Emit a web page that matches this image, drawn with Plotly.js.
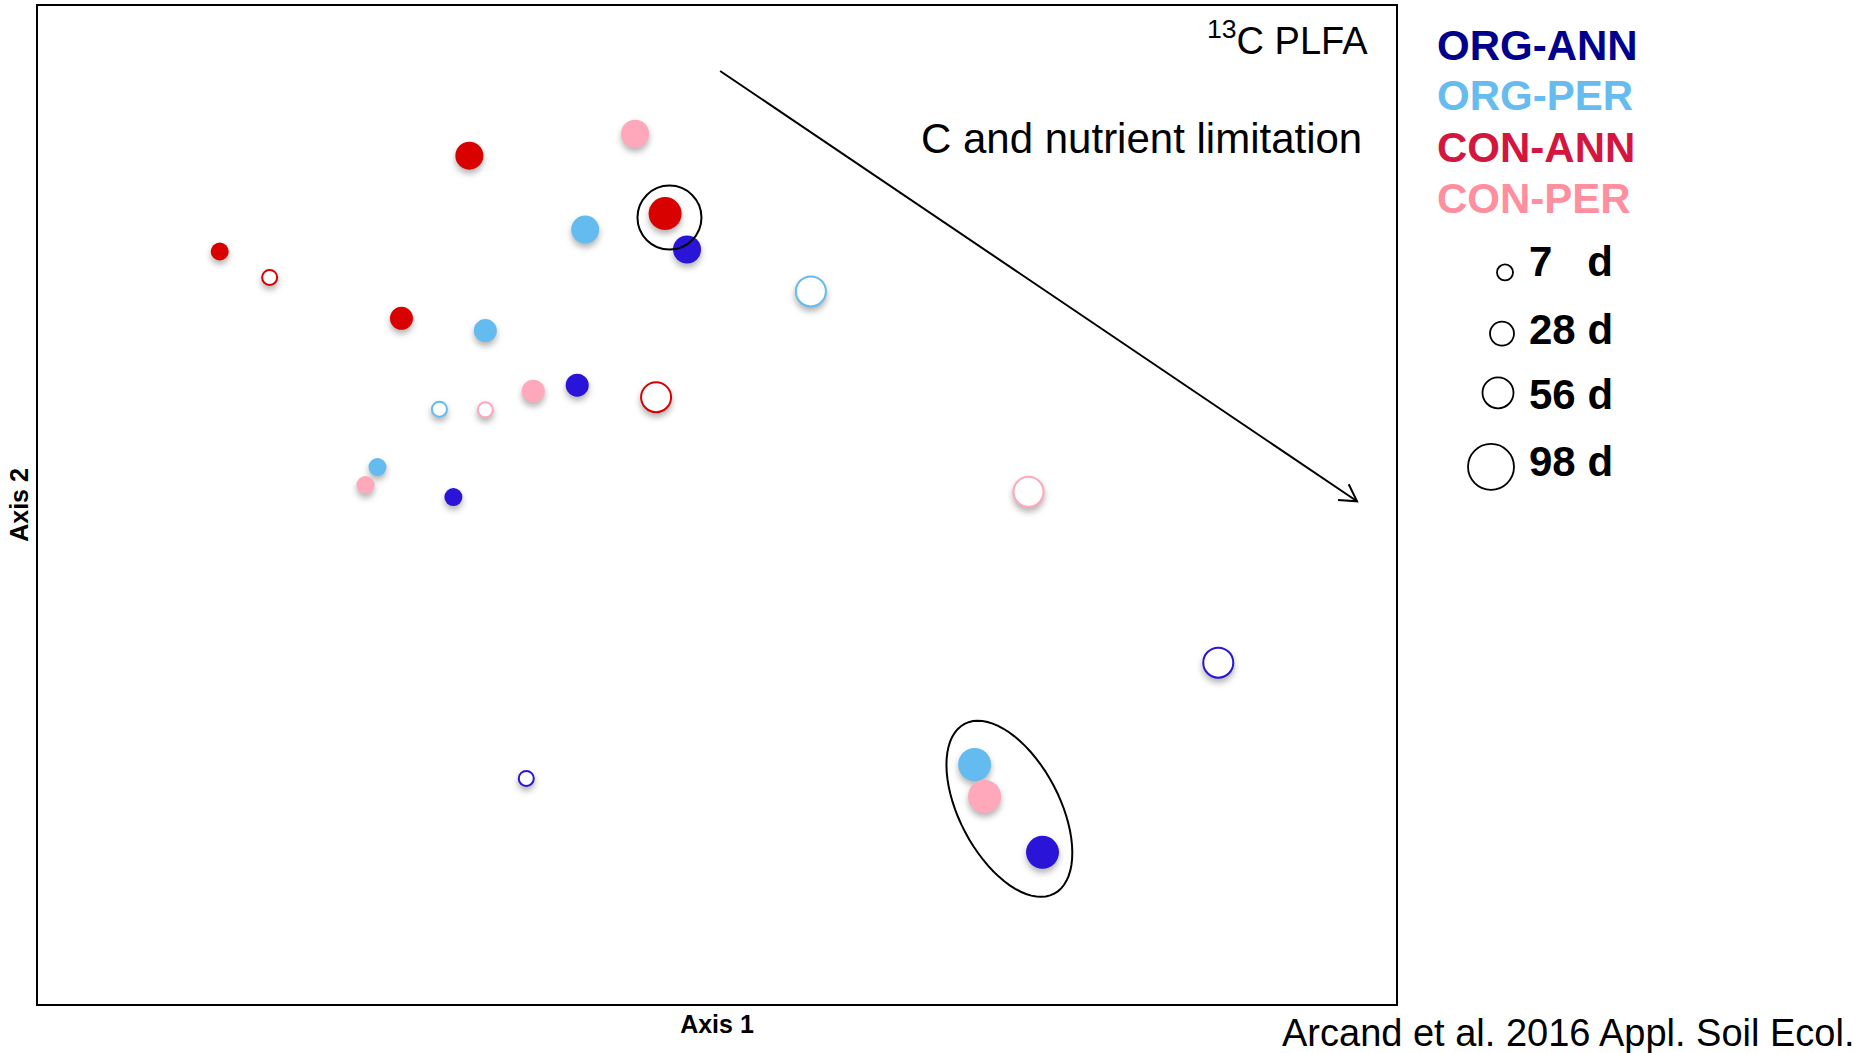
<!DOCTYPE html>
<html>
<head>
<meta charset="utf-8">
<script src="https://cdn.plot.ly/plotly-3.0.1.min.js"></script>
<style>
html,body{margin:0;padding:0;background:#ffffff;}
#chart{width:1860px;height:1053px;}
.scatterlayer path.point{filter:drop-shadow(0px 4px 3px rgba(0,0,0,0.3));}
</style>
</head>
<body>
<div id="chart"></div>
<script>
const groupNames = ['ORG-ANN', 'ORG-PER', 'CON-ANN', 'CON-PER'];

const orgAnnX   = [-1.32, -0.955, -0.70, -0.15, 1.63, 2.51];
const orgAnnY   = [0.04, -1.37, 0.60, 1.28, -1.74, -0.79];
const orgAnnDay = [7, 7, 28, 56, 98, 98];
const orgAnnOpen = [0, 1, 0, 0, 0, 1];

const orgPerX   = [-1.70, -1.39, -1.16, -0.66, 1.29, 0.47];
const orgPerY   = [0.19, 0.48, 0.874, 1.38, -1.30, 1.07];
const orgPerDay = [7, 7, 28, 56, 98, 98];
const orgPerOpen = [0, 1, 0, 0, 0, 1];

const conAnnX   = [-2.49, -2.24, -1.58, -1.24, -0.26, -0.305];
const conAnnY   = [1.27, 1.14, 0.935, 1.75, 1.46, 0.54];
const conAnnDay = [7, 7, 28, 56, 98, 98];
const conAnnOpen = [0, 1, 0, 0, 0, 1];

const conPerX   = [-1.76, -1.16, -0.92, -0.41, 1.34, 1.56];
const conPerY   = [0.10, 0.477, 0.57, 1.86, -1.46, 0.066];
const conPerDay = [7, 7, 28, 56, 98, 98];
const conPerOpen = [0, 1, 0, 0, 0, 1];

const legendDays = [7, 28, 56, 98];
const legendDayLabels = ['7\u00a0\u00a0\u00a0d', '28 d', '56 d', '98 d'];

const panelTitle = '<sup>13</sup>C PLFA';
const arrowLabel = 'C and nutrient limitation';
const citation = 'Arcand et al. 2016 Appl. Soil Ecol.';

// arrow (gradient) start and end, and highlighted groups, in axis units
const arrowStart = [0.0156, 2.1744];
const arrowEnd = [3.2049, 0.0186];
const circleCenter = [-0.238, 1.44];
const ellipseCenter = [1.464, -1.522];

// ---------------- STYLE ----------------
const FONT = 'Arial, "Liberation Sans", Helvetica, sans-serif';
const markerColors = ['#2914d8', '#63bbf0', '#d90000', '#ffa7bb'];
const labelColors = ['#00008c', '#66bcee', '#d4163e', '#ff8f9f'];
const sizeByDay = {7: 18, 28: 23, 56: 28, 98: 33};
const legendCircleSize = [16, 24, 31, 46];

const W = 1860, H = 1053;
const M = {l: 38, r: 464, t: 6, b: 49};
const plotW = W - M.l - M.r, plotH = H - M.t - M.b;
const XR = [-3.4, 3.4], YR = [-2.5, 2.5];
const px2paperX = px => (px - M.l) / plotW;
const py2paperY = py => (H - M.b - py) / plotH;

// ---------------- TRACES ----------------
const groupX = [orgAnnX, orgPerX, conAnnX, conPerX];
const groupY = [orgAnnY, orgPerY, conAnnY, conPerY];
const groupDay = [orgAnnDay, orgPerDay, conAnnDay, conPerDay];
const groupOpen = [orgAnnOpen, orgPerOpen, conAnnOpen, conPerOpen];

const traces = groupNames.map((name, g) => ({
  type: 'scatter',
  mode: 'markers',
  name: name,
  x: groupX[g],
  y: groupY[g],
  text: groupDay[g].map(d => d + ' d'),
  hoverinfo: 'name+text',
  cliponaxis: false,
  marker: {
    symbol: 'circle',
    size: groupDay[g].map((d, i) => groupOpen[g][i] ? sizeByDay[d] - 3 : sizeByDay[d]),
    color: groupOpen[g].map(o => o ? '#ffffff' : markerColors[g]),
    opacity: 1,
    line: {
      color: markerColors[g],
      width: groupOpen[g].map(o => o ? 2 : 0)
    }
  }
}));

// ---------------- SHAPES ----------------
const shapes = [];

// highlight circle around a point
shapes.push({
  type: 'circle', xref: 'x', yref: 'y',
  xsizemode: 'pixel', ysizemode: 'pixel',
  xanchor: circleCenter[0], yanchor: circleCenter[1],
  x0: -32, x1: 32, y0: -32, y1: 32,
  line: {color: '#000', width: 2}
});

// tilted ellipse around the lower-right cluster
(function () {
  const a = 96, b = 50, phi = -62.2 * Math.PI / 180;
  let p = '';
  for (let k = 0; k <= 72; k++) {
    const t = k / 72 * 2 * Math.PI;
    const ex = a * Math.cos(t), ey = b * Math.sin(t);
    const X = ex * Math.cos(phi) - ey * Math.sin(phi);
    const Y = ex * Math.sin(phi) + ey * Math.cos(phi);
    p += (k === 0 ? 'M' : 'L') + X.toFixed(2) + ',' + Y.toFixed(2);
  }
  p += 'Z';
  shapes.push({
    type: 'path', xref: 'x', yref: 'y',
    xsizemode: 'pixel', ysizemode: 'pixel',
    xanchor: ellipseCenter[0], yanchor: ellipseCenter[1],
    path: p,
    line: {color: '#000', width: 2}
  });
})();

// arrow shaft
shapes.push({
  type: 'line', xref: 'x', yref: 'y',
  x0: arrowStart[0], y0: arrowStart[1], x1: arrowEnd[0], y1: arrowEnd[1],
  line: {color: '#000', width: 2}
});
// open arrow head
(function () {
  const sx = plotW / (XR[1] - XR[0]), sy = plotH / (YR[1] - YR[0]);
  const dx = (arrowEnd[0] - arrowStart[0]) * sx, dy = (arrowEnd[1] - arrowStart[1]) * sy;
  const len = Math.hypot(dx, dy);
  const ux = -dx / len, uy = -dy / len; // pointing back along shaft (y up)
  const L = 19, ang = 30 * Math.PI / 180;
  const rot = (x, y, a) => [x * Math.cos(a) - y * Math.sin(a), x * Math.sin(a) + y * Math.cos(a)];
  const p1 = rot(ux * L, uy * L, ang), p2 = rot(ux * L, uy * L, -ang);
  shapes.push({
    type: 'path', xref: 'x', yref: 'y',
    xsizemode: 'pixel', ysizemode: 'pixel',
    xanchor: arrowEnd[0], yanchor: arrowEnd[1],
    path: 'M' + p1[0].toFixed(2) + ',' + p1[1].toFixed(2) + 'L0,0L' + p2[0].toFixed(2) + ',' + p2[1].toFixed(2),
    line: {color: '#000', width: 2}
  });
})();

// size legend circles
const legendCirclePos = [[1505, 272.4], [1502, 333.6], [1498, 392.8], [1491, 466.8]];
legendDays.forEach((d, i) => {
  const s = legendCircleSize[i] / 2;
  shapes.push({
    type: 'circle', xref: 'paper', yref: 'paper',
    xsizemode: 'pixel', ysizemode: 'pixel',
    xanchor: px2paperX(legendCirclePos[i][0]), yanchor: py2paperY(legendCirclePos[i][1]),
    x0: -s, x1: s, y0: -s, y1: s,
    line: {color: '#000', width: 1.8}
  });
});

// ---------------- ANNOTATIONS ----------------
const annotations = [];
const bottomY = (baseline, size) => py2paperY(baseline + 0.212 * size + 1);

annotations.push({
  xref: 'paper', yref: 'paper', x: px2paperX(1370), y: bottomY(55, 38),
  xanchor: 'right', yanchor: 'bottom', showarrow: false,
  text: panelTitle, font: {family: FONT, size: 38, color: '#000'}
});
annotations.push({
  xref: 'paper', yref: 'paper', x: px2paperX(1364), y: bottomY(154.5, 42),
  xanchor: 'right', yanchor: 'bottom', showarrow: false,
  text: arrowLabel, font: {family: FONT, size: 42, color: '#000'}
});

const groupBaselines = [61, 111.5, 163, 213.6];
groupNames.forEach((name, g) => {
  annotations.push({
    xref: 'paper', yref: 'paper', x: px2paperX(1435.5), y: bottomY(groupBaselines[g], 42),
    xanchor: 'left', yanchor: 'bottom', showarrow: false,
    text: name, font: {family: FONT, size: 42, color: labelColors[g], weight: 'bold'}
  });
});

const dayBaselines = [277, 345, 410, 477];
legendDayLabels.forEach((lab, i) => {
  annotations.push({
    xref: 'paper', yref: 'paper', x: px2paperX(1527), y: bottomY(dayBaselines[i], 42),
    xanchor: 'left', yanchor: 'bottom', showarrow: false,
    text: lab, font: {family: FONT, size: 42, color: '#000', weight: 'bold'}
  });
});

annotations.push({
  xref: 'paper', yref: 'paper', x: px2paperX(1856), y: bottomY(1047, 38),
  xanchor: 'right', yanchor: 'bottom', showarrow: false,
  text: citation, font: {family: FONT, size: 38, color: '#000'}
});

// ---------------- LAYOUT ----------------
const axisCommon = {
  showgrid: false, zeroline: false, showticklabels: false, ticks: '',
  showline: true, mirror: true, linecolor: '#000', linewidth: 2,
  automargin: false, fixedrange: true
};

const layout = {
  width: W, height: H,
  margin: M,
  paper_bgcolor: '#ffffff', plot_bgcolor: '#ffffff',
  showlegend: false,
  font: {family: FONT, color: '#000'},
  xaxis: Object.assign({}, axisCommon, {
    range: XR,
    title: {text: 'Axis 1', standoff: 10, font: {family: FONT, size: 25, color: '#000', weight: 'bold'}}
  }),
  yaxis: Object.assign({}, axisCommon, {
    range: YR,
    title: {text: 'Axis 2', standoff: 0, font: {family: FONT, size: 25, color: '#000', weight: 'bold'}}
  }),
  shapes: shapes,
  annotations: annotations
};

Plotly.newPlot('chart', traces, layout, {displayModeBar: false, staticPlot: true});
</script>
</body>
</html>
